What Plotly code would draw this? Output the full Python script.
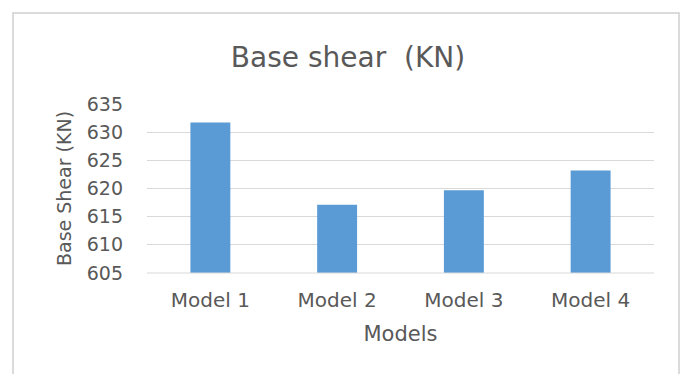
import plotly.graph_objects as go

models = ["Model 1", "Model 2", "Model 3", "Model 4"]
base_shear = [631.7, 617.1, 619.7, 623.2]
y_ticks = [605, 610, 615, 620, 625, 630, 635]

text_color = "#595959"
font_family = "'DejaVu Sans', Verdana, sans-serif"

fig = go.Figure(
    go.Bar(
        x=models,
        y=base_shear,
        marker=dict(color="#5B9BD5", line=dict(width=0)),
    )
)

W, H = 688, 374
ml, mr, mt, mb = 147, 34, 104, 101
pw, ph = W - ml - mr, H - mt - mb

def px_x(p):
    return (p - ml) / pw

def px_y(p):
    return (H - mb - p) / ph

fig.update_layout(
    width=W,
    height=H,
    margin=dict(l=ml, r=mr, t=mt, b=mb),
    paper_bgcolor="white",
    plot_bgcolor="white",
    bargap=0.685,
    showlegend=False,
    font=dict(family=font_family, color=text_color, size=19),
    title=dict(
        text="Base shear \u00a0(KN)",
        x=px_x(348), xref="paper", xanchor="center",
        y=1 - 57 / H, yref="container", yanchor="middle",
        font=dict(size=28, color=text_color, family=font_family),
    ),
    xaxis=dict(
        title=dict(text="Models", font=dict(size=21), standoff=15),
        tickfont=dict(size=20),
        ticklabelstandoff=13,
        showgrid=False,
        showline=False,
        ticks="",
    ),
    yaxis=dict(
        title=dict(text="Base Shear (KN)", font=dict(size=19), standoff=10),
        range=[605, 635],
        tickvals=y_ticks,
        ticktext=[str(t) for t in y_ticks],
        tickfont=dict(size=19),
        ticklabelstandoff=23,
        showgrid=True,
        gridcolor="#d9d9d9",
        gridwidth=1,
        zeroline=False,
        showline=False,
        ticks="",
    ),
    shapes=[
        dict(
            type="rect", xref="paper", yref="paper",
            x0=px_x(13), x1=px_x(679), y0=px_y(H + 20), y1=px_y(13),
            line=dict(color="#d0d0d0", width=1.5),
            fillcolor="rgba(0,0,0,0)",
            layer="below",
        ),
        dict(
            type="line", xref="paper", yref="paper",
            x0=0, x1=1, y0=0, y1=0,
            line=dict(color="#d9d9d9", width=1),
        ),
    ],
)

fig.write_html("out.html")
